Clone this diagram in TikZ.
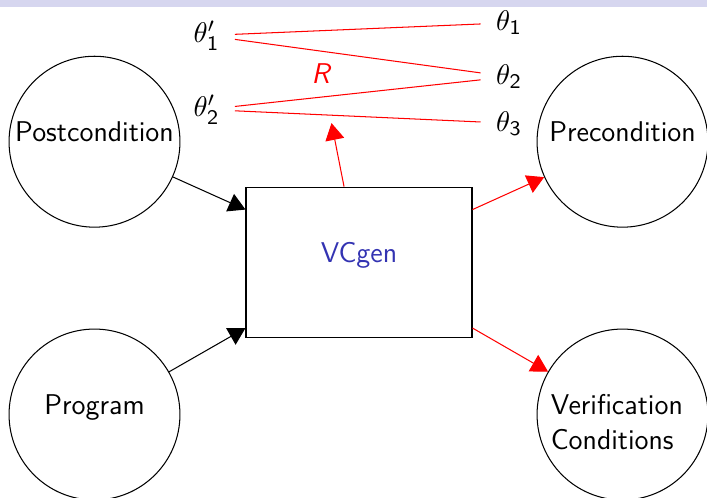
\documentclass[tikz,border=0pt]{standalone}
\usepackage{amsmath,amssymb}
\usepackage{tikz}
\usetikzlibrary{positioning,arrows.meta}
\usepackage{xcolor}
\definecolor{headband}{RGB}{214,214,239}
\definecolor{vcblue}{rgb}{0.2,0.2,0.7}

\begin{document}
\begin{tikzpicture}[x=0.385pt,y=-0.385pt,
  every node/.style={font=\fontsize{11}{13.6}\sffamily},
  blob/.style={draw,circle,inner sep=0pt,minimum size=65.8pt,text height=1.6ex,text depth=1.6ex},
  box/.style={draw,rectangle,minimum width=87pt,minimum height=58.1pt,text height=1.6ex,text depth=1.6ex},
  param/.style={inner xsep=5.8pt,anchor=base},
  flow/.style={-{Triangle[length=6.5pt,width=7.3pt]}},
  rflow/.style={flow,red}]
\useasboundingbox (0,0) rectangle (707,497);
\fill[headband] (0,0) rectangle (707,7.3);
% inputs, generator, outputs
\node[blob] (post) at (94.5,141.7) {Postcondition};
\node[blob] (prog) at (94.5,414.5) {Program};
\node[box,text=vcblue] (vcgen) at (359,262.5) {VCgen};
\node[blob] (pre) at (622.5,141.7) {Precondition};
\node[blob] (vc) at (622.5,414.5) {\vtop{\hbox{Verification}\hbox{Conditions}}\kern4.4pt};
% relation between the parameters
\node[param] (t1p) at (206.5,42.5) {$\theta'_{\mathsf{1}}$};
\node[param] (t2p) at (206.5,116.5) {$\theta'_{\mathsf{2}}$};
\node[param] (t1) at (509,30.5) {$\theta_{\mathsf{1}}$};
\node[param] (t2) at (509,84.5) {$\theta_{\mathsf{2}}$};
\node[param] (t3) at (509,131) {$\theta_{\mathsf{3}}$};
\node[red,anchor=base] (rel) at (321.7,83.3) {\textit{R}};
\draw[red] (t1p) -- (t1);
\draw[red] (t1p) -- (t2);
\draw[red] (t2p) -- (t2);
\draw[red] (t2p) -- (t3);
\draw[flow] (post) -- (vcgen.155);
\draw[flow] (prog) -- (vcgen.210);
\draw[rflow] (vcgen.25) -- (pre);
\draw[rflow] (vcgen.-30) -- (vc);
\draw[rflow,shorten >=12pt] (vcgen) -- (rel);
\end{tikzpicture}
\end{document}
